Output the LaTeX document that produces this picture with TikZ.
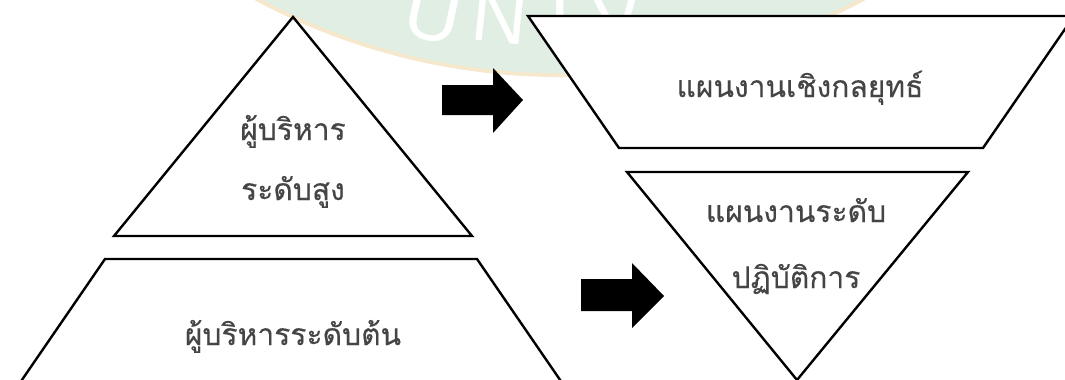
\documentclass[tikz,border=0pt]{standalone}
\usepackage{fontspec}
\newfontfamily\thaifont[Script=Thai,FakeBold=0.3]{Loma}
\setsansfont{Liberation Sans}
\definecolor{txt}{HTML}{454545}
\definecolor{wmgreen}{HTML}{E1EEE4}
\definecolor{wmrim}{HTML}{F5E8CC}
\tikzset{
  shapeline/.style={draw=black, line width=1.8pt, fill=white, line join=miter},
  blockarrow/.style={fill=black, draw=none},
  label/.style={font=\thaifont\fontsize{22.5}{26}\selectfont, text=txt, inner sep=0pt, anchor=base},
  wmletter/.style={font=\sffamily\fontsize{58}{62}\selectfont, text=white, inner sep=0pt, anchor=base}
}
\begin{document}
\begin{tikzpicture}[x=0.75pt, y=-0.75pt]
\useasboundingbox (0,0) rectangle (1065,379);
\clip (0,0) rectangle (1065,379);
\fill[white] (0,0) rectangle (1065,379);
% watermark
\fill[wmrim] (560,-567) circle [radius=483pt];
\fill[wmgreen] (560,-567) circle [radius=480pt];
\node[wmletter, rotate=-12] (wU) at (428,40) {U};
\node[wmletter, rotate=-6] (wN) at (497,42) {N};
\node[wmletter, rotate=0] (wI) at (560,43) {I};
\node[wmletter, rotate=6] (wV) at (620,42) {V};
% shapes
\draw[shapeline] (293,17) -- (472,236) -- (114,236) -- cycle;
\draw[shapeline] (15,390) -- (105,259) -- (477,259) -- (567,390);
\draw[shapeline] (528,16) -- (1074,16) -- (983,148) -- (619,148) -- cycle;
\draw[shapeline] (627,172) -- (968,172) -- (797,380) -- cycle;
% arrows
\fill[blockarrow] (442,85) -- (493,85) -- (493,68) -- (523,100) -- (493,133) -- (493,115) -- (442,115) -- cycle;
\fill[blockarrow] (581,279) -- (632,279) -- (632,263) -- (664,296) -- (632,328) -- (632,311) -- (581,311) -- cycle;
% labels
\node[label] (topA) at (293,140) {ผู้บริหาร};
\node[label] (topB) at (293,200) {ระดับสูง};
\node[label] (low) at (293,345) {ผู้บริหารระดับต้น};
\node[label] (strat) at (800,97) {แผนงานเชิงกลยุทธ์};
\node[label] (opA) at (796,222) {แผนงานระดับ};
\node[label] (opB) at (796,288) {ปฏิบัติการ};
\end{tikzpicture}
\end{document}
